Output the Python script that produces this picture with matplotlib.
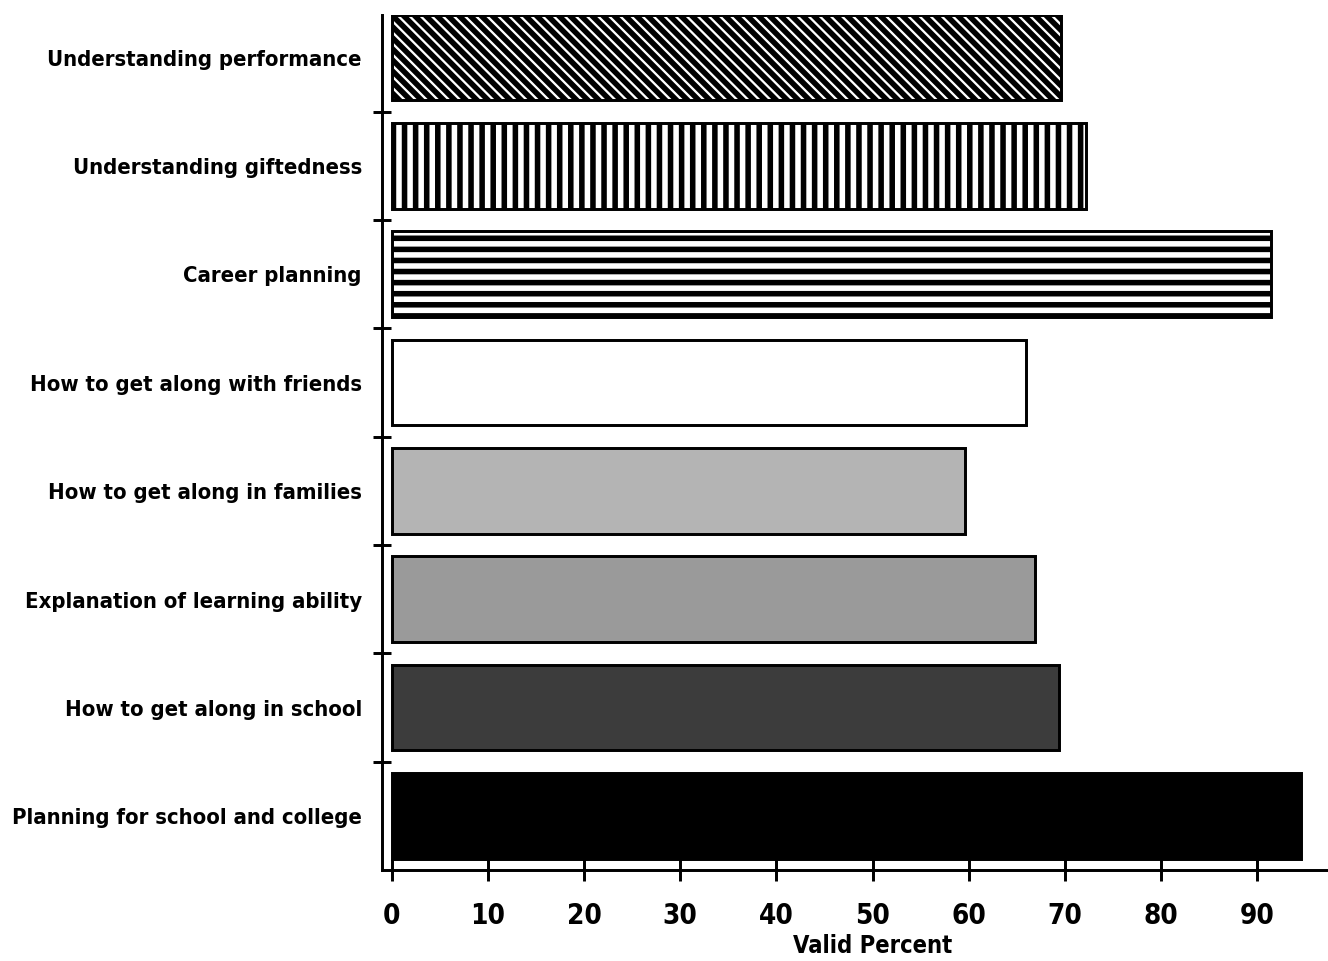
import matplotlib
matplotlib.use('Agg')
import matplotlib.pyplot as plt
import numpy as np

# data
topics = ['Understanding performance',
          'Understanding giftedness',
          'Career planning',
          'How to get along with friends',
          'How to get along in families',
          'Explanation of learning ability',
          'How to get along in school',
          'Planning for school and college']
valid_pct = [69.6, 72.2, 91.4, 66.0, 59.6, 66.9, 69.4, 94.6]
xticks = [0, 10, 20, 30, 40, 50, 60, 70, 80, 90]

# fill styles, one per bar
hatches = ['\\\\\\\\', '||', '--', '', '', '', '', '']
faces = ['white', 'white', 'white', 'white', '#b4b4b4', '#9a9a9a', '#3c3c3c', 'black']

plt.rcParams['font.family'] = ['DejaVu Sans']
plt.rcParams['font.weight'] = 'bold'
plt.rcParams['font.stretch'] = 'condensed'
plt.rcParams['hatch.linewidth'] = 3.0

DPI = 133
fig = plt.figure(figsize=(1328.4 / DPI, 961.4 / DPI), dpi=DPI)
ax = fig.add_axes([0.2877, 0.0947, 0.7123, 0.8897])

y = np.arange(len(topics))
bars = ax.barh(y, valid_pct, height=0.79, color=faces, edgecolor='black', linewidth=1.6)
for b, h in zip(bars, hatches):
    b.set_hatch(h)

ax.set_ylim(7.5, -0.395)
ax.set_xlim(-1.0, 97.4)

for s in ['top', 'right']:
    ax.spines[s].set_visible(False)
for s in ['left', 'bottom']:
    ax.spines[s].set_linewidth(1.6)

ax.set_yticks(y)
ax.set_yticklabels(topics, fontsize=14)
ax.set_yticks(y[:-1] + 0.5, minor=True)
ax.tick_params(axis='y', which='major', length=0, pad=11)
ax.tick_params(axis='y', which='minor', direction='inout', length=10, width=1.6)

ax.set_xticks(xticks)
ax.set_xticklabels([str(t) for t in xticks], fontsize=15)
ax.tick_params(axis='x', direction='inout', length=12, width=1.6, pad=11)

xl = ax.set_xlabel('Valid Percent', fontsize=15, fontweight='bold')
ax.xaxis.set_label_coords(0.518, -0.074)

# the scan uses a narrow bold font: shrink text to the widths seen there
fig.canvas.draw()
r = fig.canvas.get_renderer()
w = max(t.get_window_extent(r).width for t in ax.get_yticklabels())
fs = 14 * 352 / w
for t in ax.get_yticklabels():
    t.set_fontsize(fs)
wx = xl.get_window_extent(r).width
xl.set_fontsize(15 * 160 / wx)

fig.savefig('out.png', dpi=DPI)
